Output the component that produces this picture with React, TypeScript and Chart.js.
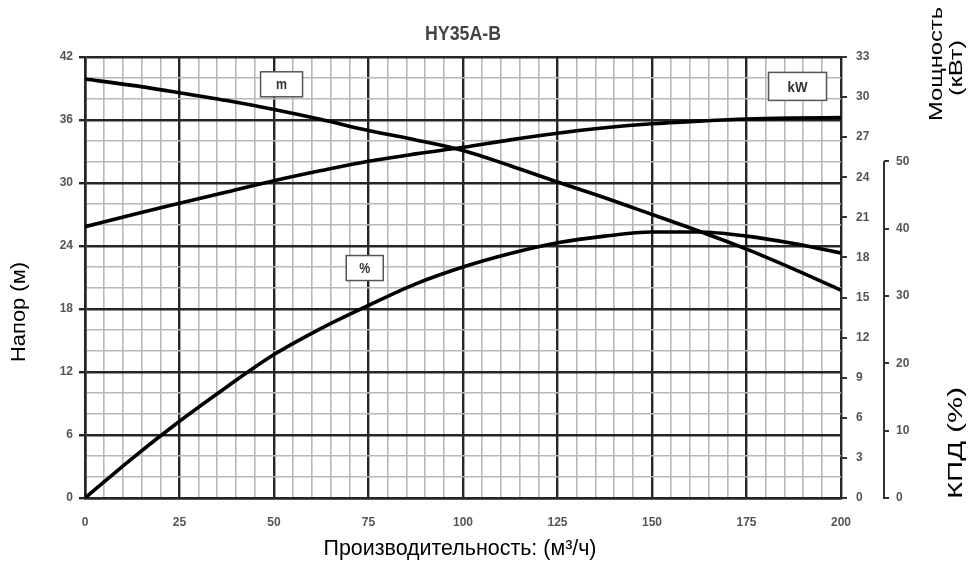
import React, { useEffect, useRef } from "react";
import { Chart, registerables } from "chart.js";

Chart.register(...registerables);

// Flow rate (m³/h)
const flow = [0, 12.5, 25, 37.5, 50, 62.5, 75, 87.5, 100, 112.5, 125, 137.5, 150, 162.5, 175, 187.5, 200];
// Head (m)
const head = [39.9, 39.3, 38.6, 37.85, 37.0, 36.05, 35.0, 34.1, 33.1, 31.65, 30.1, 28.6, 27.0, 25.4, 23.7, 21.8, 19.8];
// Power (kW)
const power = [20.3, 21.2, 22.05, 22.9, 23.74, 24.5, 25.2, 25.75, 26.24, 26.8, 27.3, 27.7, 28.0, 28.2, 28.36, 28.43, 28.46];
// Efficiency (%)
const efficiency = [0, 5.9, 11.4, 16.5, 21.3, 25.2, 28.6, 31.8, 34.3, 36.3, 37.9, 38.9, 39.5, 39.5, 38.9, 37.8, 36.4];

const effTicks = [0, 10, 20, 30, 40, 50];
const curveTags = ["m", "kW", "%"];
const tagAnchors = [
  { x: 52, y: 39.4 },
  { x: 188.5, y: 39.2 },
  { x: 74, y: 21.9 },
];

const tickFont = { family: "'Liberation Sans', Arial, sans-serif", size: 12, weight: "bold" as const };
const tickColor = "#555";
const majorColor = "#262626";
const minorColor = "#b8b8b8";

const pts = (ys: number[]) => flow.map((x, i) => ({ x, y: ys[i] }));

function fitText(ctx: any, text: string, cx: number, cy: number, font: string, len: number, rotated: boolean) {
  ctx.save();
  ctx.font = font;
  ctx.textAlign = "center";
  ctx.textBaseline = "middle";
  const w = ctx.measureText(text).width;
  ctx.translate(cx, cy);
  if (rotated) ctx.rotate(-Math.PI / 2);
  ctx.scale(len / w, 1);
  ctx.fillText(text, 0, 0);
  ctx.restore();
}

const decor = {
  id: "decor",
  afterDatasetsDraw(chart: any) {
    const { ctx, scales } = chart;
    ctx.save();
    curveTags.forEach((t, i) => {
      const cx = scales.x.getPixelForValue(tagAnchors[i].x);
      const cy = scales.y.getPixelForValue(tagAnchors[i].y);
      const w = t === "kW" ? 58 : t === "m" ? 42 : 37;
      const h = t === "kW" ? 28 : 25;
      ctx.fillStyle = "#fff";
      ctx.fillRect(cx - w / 2, cy - h / 2, w, h);
      ctx.strokeStyle = "#555";
      ctx.lineWidth = 1.5;
      ctx.strokeRect(cx - w / 2, cy - h / 2, w, h);
      ctx.fillStyle = "#333";
      fitText(ctx, t, cx, cy + 1, "bold 15px 'Liberation Sans', Arial, sans-serif", t === "kW" ? 20 : 11, false);
    });
    ctx.restore();
  },
  afterDraw(chart: any) {
    const { ctx, scales } = chart;
    ctx.save();
    const s = scales.y2;
    ctx.strokeStyle = "#333";
    ctx.lineWidth = 2;
    ctx.beginPath();
    ctx.moveTo(s.left, s.getPixelForValue(0) + 1);
    ctx.lineTo(s.left, s.getPixelForValue(50));
    ctx.stroke();
    ctx.fillStyle = "#444";
    fitText(ctx, "HY35A-B", (chart.chartArea.left + chart.chartArea.right) / 2, 34, "bold 20px 'Liberation Sans', Arial, sans-serif", 76, false);
    ctx.fillStyle = "#000";
    const f = (n: number) => `${n}px 'Liberation Sans', Arial, sans-serif`;
    fitText(ctx, "Производительность: (м³/ч)", 460, 549, f(22), 273, false);
    fitText(ctx, "Напор (м)", 19, 312, f(20), 100, true);
    fitText(ctx, "Мощность", 937, 64, f(18), 114, true);
    fitText(ctx, "(кВт)", 957, 68, f(18), 56, true);
    fitText(ctx, "КПД (%)", 956, 443, f(21), 112, true);
    ctx.restore();
  },
};

export default function App() {
  const ref = useRef<HTMLCanvasElement>(null);
  useEffect(() => {
    if (!ref.current) return;
    const line = (label: string, ys: number[], axis: string) => ({
      label,
      data: pts(ys),
      yAxisID: axis,
      borderColor: "#000",
      borderWidth: 3.6,
      pointRadius: 0,
      fill: false,
      cubicInterpolationMode: "monotone" as const,
    });
    const chart = new Chart(ref.current, {
      type: "line",
      data: {
        datasets: [
          line("m", head, "y"),
          line("kW", power, "y1"),
          line("%", efficiency, "y2"),
        ],
      },
      plugins: [decor],
      options: {
        responsive: false,
        animation: false,
        layout: { padding: { top: 57, left: 0, right: 0, bottom: 0 } },
        plugins: { legend: { display: false }, tooltip: { enabled: false }, title: { display: false } },
        scales: {
          x: {
            type: "linear",
            position: "bottom",
            min: 0,
            max: 200,
            afterFit: (s: any) => { s.height = 69; },
            ticks: {
              stepSize: 5,
              autoSkip: false,
              maxRotation: 0,
              padding: 17,
              font: tickFont,
              color: tickColor,
              callback: (v: any) => (v % 25 === 0 ? String(v) : ""),
            },
            grid: {
              drawTicks: false,
              color: (c: any) => (c.tick && c.tick.value % 25 === 0 ? majorColor : minorColor),
              lineWidth: (c: any) => (c.tick && c.tick.value % 25 === 0 ? 2.4 : 1.6),
            },
            border: { display: true, color: majorColor, width: 2.6 },
          },
          y: {
            position: "left",
            min: 0,
            max: 42,
            afterFit: (s: any) => { s.width = 85; },
            ticks: {
              stepSize: 2,
              autoSkip: false,
              padding: 6,
              font: tickFont,
              color: tickColor,
              callback: (v: any) => (v % 6 === 0 ? String(v) : ""),
            },
            grid: {
              tickLength: 6,
              color: (c: any) => (c.tick && c.tick.value % 6 === 0 ? majorColor : minorColor),
              lineWidth: (c: any) => (c.tick && c.tick.value % 6 === 0 ? 2.4 : 1.6),
              tickColor: (c: any) => (c.tick && c.tick.value % 6 === 0 ? majorColor : "rgba(0,0,0,0)"),
            },
            border: { display: true, color: majorColor, width: 2.6 },
          },
          y1: {
            position: "right",
            min: 0,
            max: 33,
            afterFit: (s: any) => { s.width = 43; },
            ticks: { stepSize: 3, autoSkip: false, padding: 9, font: tickFont, color: tickColor },
            grid: { drawOnChartArea: false, tickLength: 6, color: "#333", lineWidth: 2 },
            border: { display: false },
          },
          y2: {
            position: "right",
            min: 0,
            max: 65.5,
            afterFit: (s: any) => { s.width = 84; },
            afterBuildTicks: (s: any) => { s.ticks = effTicks.map((v) => ({ value: v })); },
            ticks: { autoSkip: false, padding: 7, font: tickFont, color: tickColor },
            grid: { drawOnChartArea: false, tickLength: 5, color: "#333", lineWidth: 2 },
            border: { display: false },
          },
        },
      },
    });
    return () => chart.destroy();
  }, []);
  return (
    <div style={{ position: "fixed", left: 0, top: 0, width: 968, height: 567, background: "#fff" }}>
      <canvas ref={ref} width={968} height={567} style={{ display: "block" }} />
    </div>
  );
}
